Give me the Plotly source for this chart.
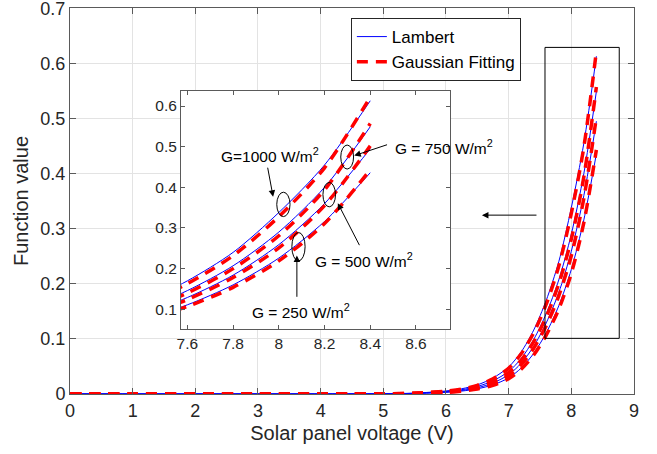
import plotly.graph_objects as go

# ---------------- data ----------------
voltage = [0, 1, 2, 3, 4, 4.5, 5, 5.5, 6, 6.25, 6.5, 6.75, 7, 7.2, 7.4, 7.6, 7.8, 8.0, 8.2, 8.4]

lambert_1000 = [0, 0, 0, 0, 0, 0.0001, 0.0004, 0.0016, 0.0055, 0.0095, 0.0165, 0.029, 0.0490, 0.0763, 0.116, 0.170, 0.240, 0.338, 0.455, 0.613]
lambert_750  = [0, 0, 0, 0, 0, 0.00008, 0.0003, 0.0013, 0.0045, 0.0078, 0.0136, 0.024, 0.0408, 0.0643, 0.0989, 0.146, 0.207, 0.290, 0.400, 0.549]
lambert_500  = [0, 0, 0, 0, 0, 0.00006, 0.00025, 0.0011, 0.0037, 0.0064, 0.0113, 0.0200, 0.0350, 0.0557, 0.0865, 0.129, 0.184, 0.259, 0.360, 0.495]
lambert_250  = [0, 0, 0, 0, 0, 0.00005, 0.0002, 0.0009, 0.0030, 0.0053, 0.0094, 0.0166, 0.0292, 0.0470, 0.0737, 0.111, 0.160, 0.226, 0.316, 0.436]

gauss_1000 = [0, 0, 0, 0, 0, 0.0001, 0.0004, 0.0015, 0.0052, 0.0090, 0.0157, 0.0276, 0.0466, 0.0729, 0.111, 0.163, 0.232, 0.328, 0.448, 0.622]
gauss_750  = [0, 0, 0, 0, 0, 0.00008, 0.0003, 0.0012, 0.0043, 0.0074, 0.0129, 0.0228, 0.0388, 0.0614, 0.0949, 0.140, 0.200, 0.281, 0.394, 0.557]
gauss_500  = [0, 0, 0, 0, 0, 0.00006, 0.00024, 0.0010, 0.0035, 0.0061, 0.0107, 0.0190, 0.0333, 0.0532, 0.0830, 0.124, 0.178, 0.251, 0.355, 0.502]
gauss_250  = [0, 0, 0, 0, 0, 0.00005, 0.0002, 0.0009, 0.0029, 0.0050, 0.0089, 0.0158, 0.0277, 0.0449, 0.0708, 0.107, 0.154, 0.219, 0.311, 0.443]

main_x_ticks = [0, 1, 2, 3, 4, 5, 6, 7, 8, 9]
main_y_ticks = [0, 0.1, 0.2, 0.3, 0.4, 0.5, 0.6, 0.7]
inset_x_ticks = [7.6, 7.8, 8.0, 8.2, 8.4, 8.6]
inset_x_labels = ["7.6", "7.8", "8", "8.2", "8.4", "8.6"]
inset_y_ticks = [0.1, 0.2, 0.3, 0.4, 0.5, 0.6]

lambert_series = [lambert_1000, lambert_750, lambert_500, lambert_250]
gauss_series = [gauss_1000, gauss_750, gauss_500, gauss_250]

FONT = "Liberation Sans, Arial, Helvetica, sans-serif"
TXT = "#262626"
BLUE = "#0000ff"
RED = "#ff0000"
DASH = "11px,8px"

fig = go.Figure()

for axes in [("x", "y"), ("x2", "y2")]:
    for i, ys in enumerate(lambert_series):
        fig.add_trace(go.Scatter(
            x=voltage, y=ys, mode="lines", xaxis=axes[0], yaxis=axes[1],
            line=dict(color=BLUE, width=1, shape="spline", smoothing=0.8),
            name="Lambert",
            showlegend=(axes[0] == "x" and i == 0)))
    for i, ys in enumerate(gauss_series):
        fig.add_trace(go.Scatter(
            x=voltage, y=ys, mode="lines", xaxis=axes[0], yaxis=axes[1],
            line=dict(color=RED, width=3.5, dash=DASH, shape="spline", smoothing=0.8),
            name="Gaussian Fitting",
            showlegend=(axes[0] == "x" and i == 0)))

axis_common = dict(showline=True, linecolor="#5a5a5a", linewidth=1, mirror="ticks",
                   ticks="inside", tickcolor="#5a5a5a", zeroline=False,
                   ticklabeloverflow="allow", automargin=False)

fig.update_layout(
    width=657, height=454,
    margin=dict(l=70, r=23, t=8, b=60),
    paper_bgcolor="white", plot_bgcolor="white",
    font=dict(family=FONT, color=TXT, size=18),
    xaxis=dict(domain=[0, 1], range=[0, 9.0005], tickvals=main_x_ticks, ticklen=6,
               showgrid=True, gridcolor="#e3e3e3", tickfont=dict(size=18),
               title=dict(text="Solar panel voltage (V)", font=dict(size=20), standoff=6),
               **axis_common),
    yaxis=dict(domain=[0, 1], range=[0, 0.7005], tickvals=main_y_ticks, ticklen=6,
               showgrid=True, gridcolor="#e3e3e3", tickfont=dict(size=18),
               title=dict(text="Function value", font=dict(size=20), standoff=6),
               **axis_common),
    xaxis2=dict(domain=[0.1968, 0.6738], range=[7.572, 8.749], anchor="y2",
                tickvals=inset_x_ticks, ticktext=inset_x_labels, ticklen=4,
                showgrid=False, tickfont=dict(size=15.5), **axis_common),
    yaxis2=dict(domain=[0.1684, 0.785], range=[0.0515, 0.637], anchor="x2",
                tickvals=inset_y_ticks, ticklen=4,
                showgrid=False, tickfont=dict(size=15.5), **axis_common),
    legend=dict(x=0.498, y=0.974, xanchor="left", yanchor="top",
                bgcolor="white", bordercolor="#262626", borderwidth=1,
                font=dict(size=17, color="#000000"), tracegroupgap=0,
                itemwidth=30),
    showlegend=True,
)

shapes = [
    dict(type="rect", xref="x", yref="y", x0=7.58, x1=8.765, y0=0.101, y1=0.629,
         line=dict(color="#000000", width=1)),
    dict(type="circle", xref="x2", yref="y2", x0=7.991, x1=8.049, y0=0.328, y1=0.388,
         line=dict(color="#000000", width=1)),
    dict(type="circle", xref="x2", yref="y2", x0=8.271, x1=8.327, y0=0.445, y1=0.504,
         line=dict(color="#000000", width=1)),
    dict(type="circle", xref="x2", yref="y2", x0=8.193, x1=8.248, y0=0.352, y1=0.412,
         line=dict(color="#000000", width=1)),
    dict(type="circle", xref="x2", yref="y2", x0=8.057, x1=8.115, y0=0.219, y1=0.289,
         line=dict(color="#000000", width=1)),
]
fig.update_layout(shapes=shapes)

arrows = [
    # (tip_x, tip_y, tail_x, tail_y, xref, yref)
    (6.574, 0.3246, 7.468, 0.3246, "x", "y"),
    (7.975, 0.377, 7.950, 0.452, "x2", "y2"),
    (8.330, 0.478, 8.480, 0.506, "x2", "y2"),
    (8.258, 0.361, 8.356, 0.254, "x2", "y2"),
    (8.079, 0.232, 8.079, 0.127, "x2", "y2"),
]
for tx, ty, ax_, ay_, xr, yr in arrows:
    fig.add_annotation(x=tx, y=ty, ax=ax_, ay=ay_, xref=xr, yref=yr, axref=xr, ayref=yr,
                       text="", showarrow=True, arrowhead=2, arrowsize=1.3,
                       arrowwidth=1, arrowcolor="#000000")

labels = [
    ("G=1000 W/m<sup>2</sup>", 7.960, 0.4795, "center"),
    ("G = 750 W/m<sup>2</sup>", 8.500, 0.500, "left"),
    ("G = 500 W/m<sup>2</sup>", 8.150, 0.221, "left"),
    ("G = 250 W/m<sup>2</sup>", 7.874, 0.096, "left"),
]
for txt, lx, ly, anc in labels:
    fig.add_annotation(x=lx, y=ly, xref="x2", yref="y2", text=txt, showarrow=False,
                       xanchor=anc, yanchor="middle",
                       font=dict(size=15.5, color="#000000", family=FONT))

fig.write_html("out.html")
